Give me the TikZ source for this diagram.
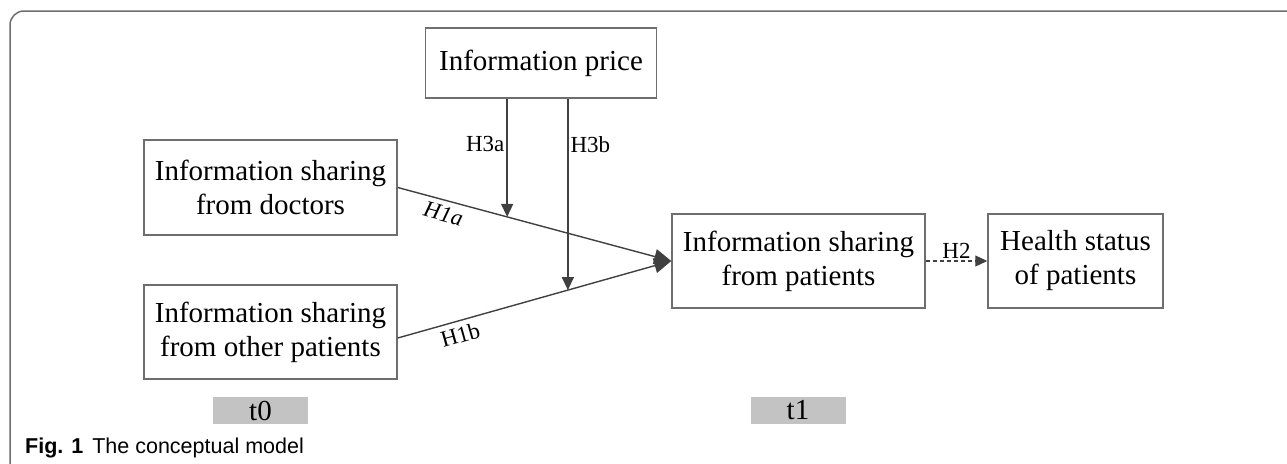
\documentclass[tikz,border=0pt]{standalone}
\usepackage{fontspec}
\setmainfont{Liberation Serif}
\newfontfamily\capfont{Liberation Sans}
\usetikzlibrary{arrows.meta}
\definecolor{linegray}{HTML}{404040}
\definecolor{boxgray}{HTML}{6E6E6E}
\definecolor{tgray}{HTML}{C3C3C3}
\tikzset{
  varbox/.style={draw=boxgray, line width=1.5pt, align=center, inner sep=0pt,
    font=\fontsize{29}{34}\selectfont},
  timebox/.style={fill=tgray, minimum width=95pt, minimum height=27pt, inner sep=0pt,
    font=\fontsize{29}{30}\selectfont},
  hlabel/.style={text=black, inner sep=1pt, font=\fontsize{23}{25}\selectfont},
  effect/.style={draw=linegray, line width=1.4pt, -{Triangle[length=17pt,width=15pt]}},
  moderate/.style={draw=linegray, line width=1.4pt, -{Triangle[length=13pt,width=12pt]}},
}
\begin{document}
\begin{tikzpicture}[x=1pt,y=-1pt]
        \useasboundingbox (0,0) rectangle (1287,463);
        \clip (0,0) rectangle (1287,463);
        %% frame
        \draw[boxgray, line width=1.5pt, rounded corners=14pt] (10,11) rectangle (1320,500);
        %% variables
        \node[varbox, minimum width=231pt, minimum height=70pt] (price) at (541,63) {Information price};
        \node[varbox, minimum width=253pt, minimum height=95pt] (doctors) at (270.5,187.5) {Information sharing\\from doctors};
        \node[varbox, minimum width=253pt, minimum height=94pt] (others) at (270.5,332) {Information sharing\\from other patients};
        \node[varbox, minimum width=253pt, minimum height=94pt] (patients) at (798.5,261) {Information sharing\\from patients};
        \node[varbox, minimum width=175pt, minimum height=94pt] (health) at (1075.5,261) {Health status\\of patients};
        %% time stamps
        \node[timebox] (tzero) at (260.5,410.5) {t0};
        \node[timebox] (tone) at (798,410.5) {t1};
        %% main effects
        \draw[effect] (doctors.east) -- (patients.west)
            node[hlabel, pos=0.18, below=4pt, sloped] {\itshape H1a}
            coordinate[pos=0.4] (ma);
        \draw[effect] ([yshift=-6pt]others.east) -- (patients.west)
            node[hlabel, pos=0.215, below=4pt, sloped] {H1b}
            coordinate[pos=0.622] (mb);
        %% moderation
        \draw[moderate] (price.south -| ma) -- (ma)
            node[hlabel, pos=0.38, left=1pt] {H3a};
        \draw[moderate] (price.south -| mb) -- (mb)
            node[hlabel, pos=0.24, right=1pt] {H3b};
        \draw[linegray, line width=1.2pt, dashed, dash pattern=on 4pt off 3pt,
            -{Triangle[length=12pt,width=11pt]}] (patients.east) -- (health.west)
            node[hlabel, midway, above=1pt] {H2};
        %% caption
        \node[anchor=base west, inner sep=0pt, font=\capfont\fontsize{21.5}{23}\selectfont] (caption) at (25,453)
            {\textbf{Fig. 1}\hspace{9pt}The conceptual model};
\end{tikzpicture}
\end{document}
